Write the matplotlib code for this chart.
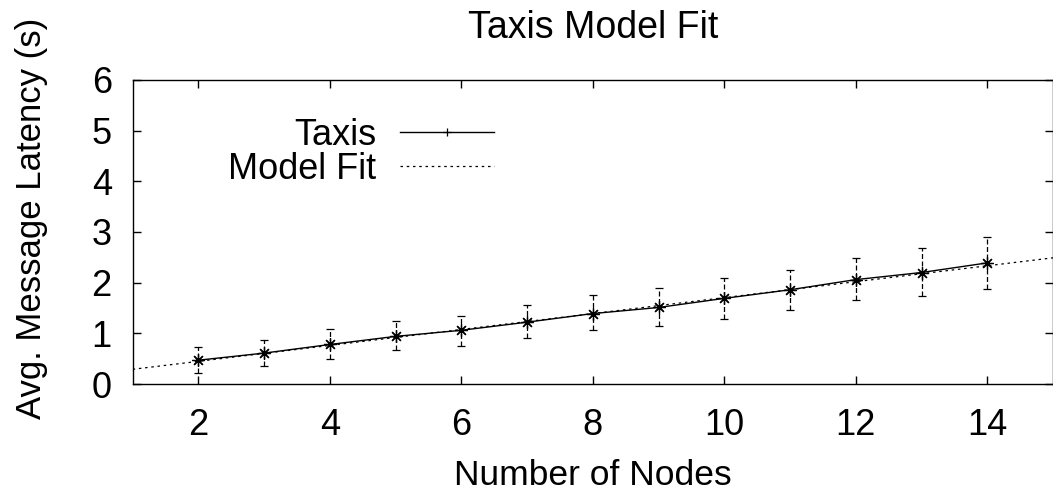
import matplotlib.pyplot as plt
from matplotlib.lines import Line2D

# Number of nodes
nodes = [2, 3, 4, 5, 6, 7, 8, 9, 10, 11, 12, 13, 14]

# Taxis average latency (s) and error bar ends
latency = [0.47, 0.61, 0.78, 0.94, 1.06, 1.22, 1.39, 1.51, 1.69, 1.86, 2.06, 2.20, 2.39]
err_top = [0.73, 0.86, 1.08, 1.25, 1.35, 1.55, 1.75, 1.90, 2.10, 2.25, 2.49, 2.69, 2.90]
err_bottom = [0.22, 0.35, 0.49, 0.67, 0.75, 0.90, 1.06, 1.14, 1.29, 1.47, 1.65, 1.73, 1.88]

# Model fit line (read at the x range ends)
fit_x = [1, 15]
fit_y = [0.29, 2.49]

plt.rcParams['font.family'] = ['Liberation Sans', 'DejaVu Sans']
plt.rcParams['font.size'] = 26

fig = plt.figure(figsize=(10.53, 4.92), dpi=100)
ax = fig.add_axes([0.126, 0.2195, 0.874, 0.618])

lower = [l - b for l, b in zip(latency, err_bottom)]
upper = [t - l for l, t in zip(latency, err_top)]

# Error bars (dashed)
eb = ax.errorbar(nodes, latency, yerr=[lower, upper], fmt='none', ecolor='black',
                 elinewidth=0.9, capsize=3, capthick=0.9)
for coll in eb[2]:
    coll.set_linestyle((0, (4, 2)))

# Taxis line with asterisk markers
ax.plot(nodes, latency, '-', color='black', linewidth=1.0,
        marker=(8, 2, 0), markersize=9, markeredgewidth=0.9)

# Model fit line (dotted)
ax.plot(fit_x, fit_y, color='black', linewidth=0.9, linestyle=(0, (2, 3)))

ax.set_xlim(1, 15)
ax.set_ylim(0, 6)
ax.set_xticks(range(2, 15, 2))
ax.set_yticks(range(0, 7))
ax.tick_params(direction='in', length=6, width=1, top=True, right=True)
ax.tick_params(axis='x', pad=17)
ax.tick_params(axis='y', pad=15)
for s in ax.spines.values():
    s.set_linewidth(1)

ax.set_title('Taxis Model Fit', fontsize=27, pad=30)
ax.set_xlabel('Number of Nodes', fontsize=25.5, labelpad=12)
ax.set_ylabel('Avg. Message Latency (s)', fontsize=25)
ax.yaxis.set_label_coords(-0.092, 0.546)

handles = [
    Line2D([], [], color='black', linewidth=1.0, marker='+', markersize=6,
           markeredgewidth=0.9),
    Line2D([], [], color='black', linewidth=0.9, linestyle=(0, (2, 3))),
]
ax.legend(handles, ['Taxis', 'Model Fit'], frameon=False, markerfirst=False,
          numpoints=1, handlelength=2.6, handletextpad=0.65, labelspacing=-0.02,
          loc='upper left', bbox_to_anchor=(0.088, 0.923), borderaxespad=0)

plt.savefig('out.png', dpi=100)
